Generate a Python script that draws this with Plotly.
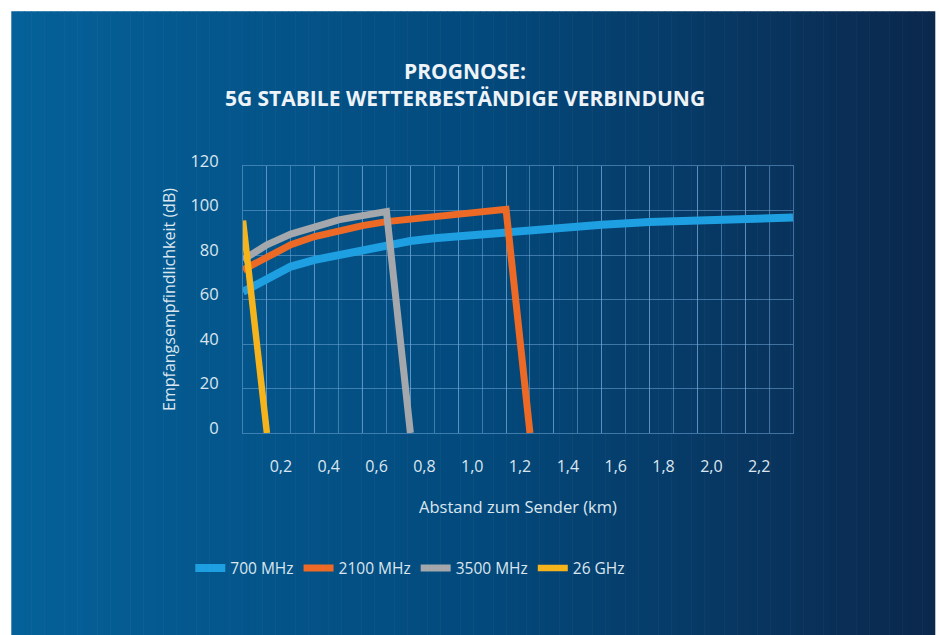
import plotly.graph_objects as go

# ---------------- data ----------------
x_700 = [0.1, 0.2, 0.3, 0.4, 0.5, 0.6, 0.7, 0.8, 0.9, 1.0, 1.1, 1.2, 1.3, 1.4, 1.6, 1.8, 2.0, 2.2, 2.4]
y_700 = [63.5, 68.8, 74.8, 77.8, 80.0, 82.3, 84.6, 86.3, 87.5, 88.4, 89.5, 90.3, 91.3, 92.1, 93.6, 94.8, 95.6, 96.2, 96.8]

x_2100 = [0.1, 0.2, 0.3, 0.4, 0.5, 0.6, 0.7, 0.8, 0.9, 1.0, 1.1, 1.2, 1.3]
y_2100 = [73.3, 79.3, 84.6, 88.3, 91.0, 93.2, 95.0, 96.2, 97.3, 98.3, 99.2, 100.5, 0.0]

x_3500 = [0.1, 0.2, 0.3, 0.4, 0.5, 0.6, 0.7, 0.8]
y_3500 = [77.8, 84.6, 89.4, 92.8, 95.8, 97.7, 99.5, 0.0]

x_26 = [0.1, 0.2]
y_26 = [95.5, 0.0]

series_names = ["700 MHz", "2100 MHz", "3500 MHz", "26 GHz"]
series_colors = ["#1e9fe2", "#ec6a25", "#a4a7ab", "#f5b41c"]

x_tick_vals = [0.2, 0.4, 0.6, 0.8, 1.0, 1.2, 1.4, 1.6, 1.8, 2.0, 2.2]
x_tick_text = ["0,2", "0,4", "0,6", "0,8", "1,0", "1,2", "1,4", "1,6", "1,8", "2,0", "2,2"]
y_tick_vals = [0, 20, 40, 60, 80, 100, 120]

title_text = "PROGNOSE:<br>5G STABILE WETTERBESTÄNDIGE VERBINDUNG"
x_title = "Abstand zum Sender (km)"
y_title = "Empfangsempfindlichkeit (dB)"

# ---------------- figure ----------------
W, H = 939, 635
L, R, T, B = 242.7, 146.3, 166.0, 201.7
pw, ph = W - L - R, H - T - B

FONT = "'Open Sans', Lato, sans-serif"
TXT = "#dbe6ef"
GRID = "rgba(110,165,215,0.55)"

fig = go.Figure()
xs = [x_700, x_2100, x_3500, x_26]
ys = [y_700, y_2100, y_3500, y_26]
widths = [8, 7, 7, 6.5]
for xv, yv, name, col, w in zip(xs, ys, series_names, series_colors, widths):
    fig.add_trace(go.Scatter(x=xv, y=yv, mode="lines", name=name,
                             line=dict(color=col, width=w)))

# background card with horizontal gradient
def px2paper_x(px):
    return (px - L) / pw

def px2paper_y(py):
    return (H - B - py) / ph

stops = [(0.0, (5, 97, 153)), (0.5, (3, 74, 125)), (1.0, (11, 40, 77))]

def grad(t):
    for (t0, c0), (t1, c1) in zip(stops[:-1], stops[1:]):
        if t <= t1:
            f = (t - t0) / (t1 - t0)
            return "rgb(%d,%d,%d)" % tuple(round(a + (b - a) * f) for a, b in zip(c0, c1))
    return "rgb(%d,%d,%d)" % stops[-1][1]

x0c, x1c, y0c, y1c = 11, 935, 11, 640
n = 140
shapes = []
for i in range(n):
    a = x0c + (x1c - x0c) * i / n
    b = x0c + (x1c - x0c) * (i + 1) / n + 0.6
    shapes.append(dict(type="rect", xref="paper", yref="paper", layer="below",
                       x0=px2paper_x(a), x1=px2paper_x(min(b, x1c)),
                       y0=px2paper_y(y1c), y1=px2paper_y(y0c),
                       line=dict(width=0), fillcolor=grad(i / (n - 1))))

fig.update_layout(
    width=W, height=H,
    margin=dict(l=L, r=R, t=T, b=B, autoexpand=False),
    paper_bgcolor="white", plot_bgcolor="rgba(0,0,0,0)",
    shapes=shapes,
    font=dict(family=FONT, color=TXT, size=15),
    title=dict(text="<b>" + title_text + "</b>", x=465 / W, xanchor="center",
               y=1 - 78.5 / H, yanchor="middle", yref="container",
               font=dict(family=FONT, size=21, color="#eef3f8")),
    showlegend=True,
    legend=dict(orientation="h", x=px2paper_x(190), xanchor="left",
                y=px2paper_y(569), yanchor="middle",
                font=dict(size=15.5, color=TXT), bgcolor="rgba(0,0,0,0)",
                itemwidth=30, traceorder="normal"),
)

fig.update_xaxes(range=[0.1, 2.4], tickvals=x_tick_vals, ticktext=x_tick_text,
                 showgrid=True, gridcolor=GRID, gridwidth=1, zeroline=False,
                 showline=True, linecolor=GRID, linewidth=1, mirror=True,
                 ticks="", ticklabelstandoff=19, ticklabelshift=14,
                 tickfont=dict(size=16, color=TXT),
                 minor=dict(dtick=0.1, tick0=0.1, showgrid=True, gridcolor=GRID, gridwidth=1),
                 title=dict(text=x_title, standoff=25, font=dict(size=16.5, color=TXT)))
fig.update_yaxes(range=[0, 120], tickvals=y_tick_vals,
                 showgrid=True, gridcolor=GRID, gridwidth=1, zeroline=False,
                 showline=True, linecolor=GRID, linewidth=1, mirror=True,
                 ticks="", ticklabelstandoff=20, ticklabelshift=-5,
                 tickfont=dict(size=16.5, color=TXT),
                 title=dict(text=y_title, standoff=10, font=dict(size=16, color=TXT)))

fig.write_html("out.html", config={"displayModeBar": False},
               post_script="document.body.style.margin='0';")
